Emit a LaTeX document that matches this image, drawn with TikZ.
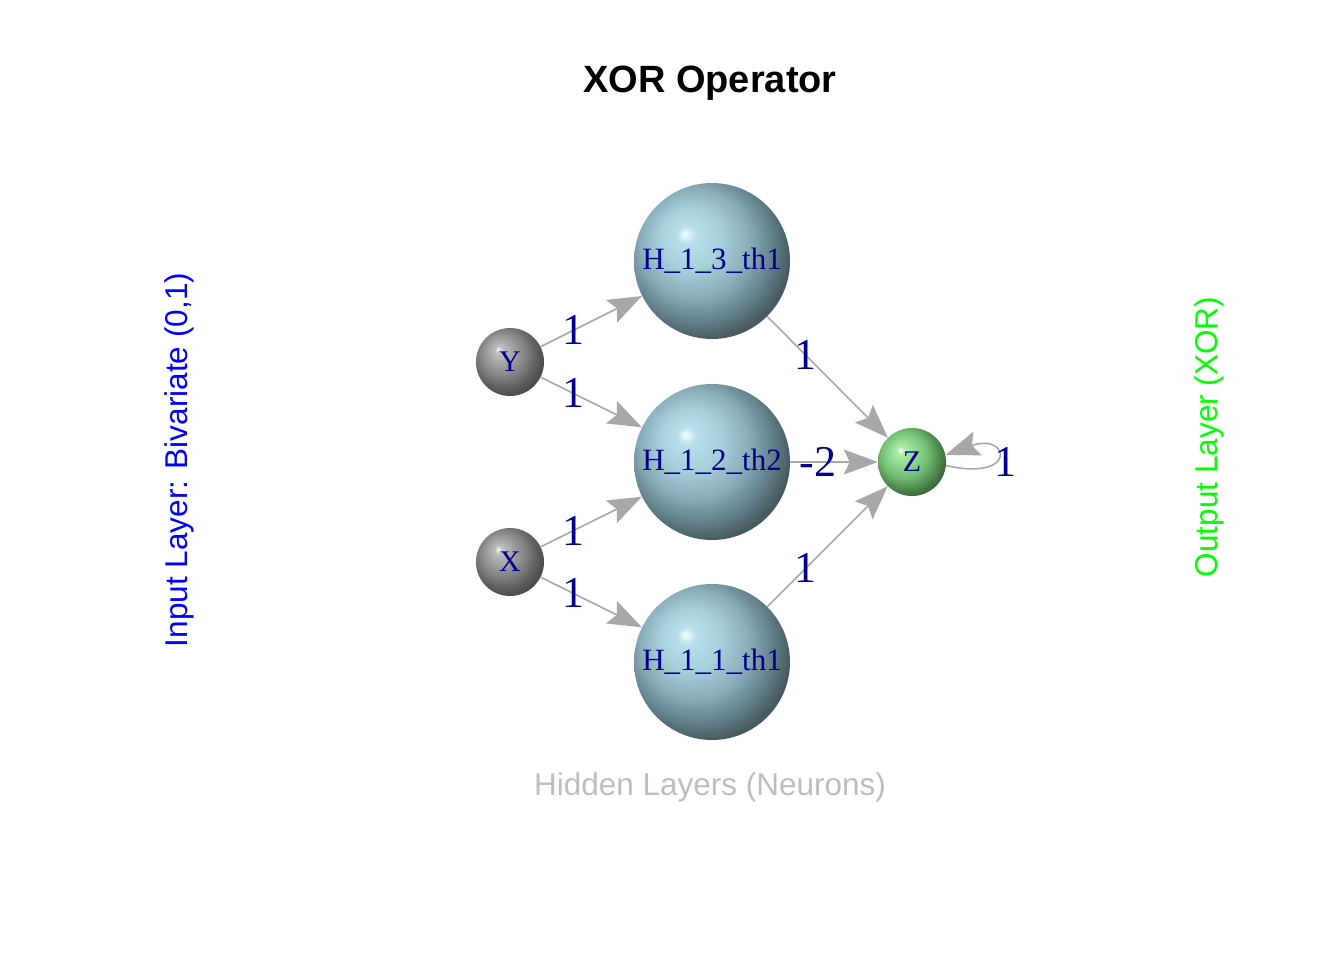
\documentclass[tikz,border=0pt]{standalone}
\usepackage{fontspec}
\setmainfont{Liberation Serif}
\newfontfamily\arialf{Liberation Sans}
\usetikzlibrary{arrows.meta,calc}
\definecolor{edgegray}{HTML}{A8A8A8}
\definecolor{lblblue}{HTML}{00008B}
\definecolor{hidgray}{HTML}{BEBEBE}
\pgfdeclareradialshading{hball}{\pgfpoint{-8.7bp}{8.9bp}}{%
 color(0bp)=(rgb,255:red,245;green,253;blue,255);
 color(1.2bp)=(rgb,255:red,216;green,241;blue,247);
 color(3bp)=(rgb,255:red,184;green,224;blue,236);
 color(10bp)=(rgb,255:red,166;green,206;blue,219);
 color(17bp)=(rgb,255:red,139;green,176;blue,188);
 color(24bp)=(rgb,255:red,98;green,128;blue,138);
 color(29bp)=(rgb,255:red,72;green,90;blue,96);
 color(50bp)=(rgb,255:red,72;green,90;blue,96)}
\pgfdeclareradialshading{gball}{\pgfpoint{-8.7bp}{9.5bp}}{%
 color(0bp)=(rgb,255:red,248;green,248;blue,248);
 color(1.2bp)=(rgb,255:red,222;green,222;blue,222);
 color(3bp)=(rgb,255:red,190;green,190;blue,190);
 color(10bp)=(rgb,255:red,160;green,160;blue,160);
 color(17bp)=(rgb,255:red,130;green,130;blue,130);
 color(24bp)=(rgb,255:red,95;green,95;blue,95);
 color(29bp)=(rgb,255:red,76;green,76;blue,76);
 color(50bp)=(rgb,255:red,76;green,76;blue,76)}
\pgfdeclareradialshading{zball}{\pgfpoint{-8.7bp}{8.9bp}}{%
 color(0bp)=(rgb,255:red,245;green,255;blue,245);
 color(1.2bp)=(rgb,255:red,212;green,248;blue,212);
 color(3bp)=(rgb,255:red,172;green,236;blue,172);
 color(10bp)=(rgb,255:red,140;green,216;blue,140);
 color(17bp)=(rgb,255:red,116;green,190;blue,116);
 color(24bp)=(rgb,255:red,79;green,140;blue,79);
 color(29bp)=(rgb,255:red,61;green,104;blue,61);
 color(50bp)=(rgb,255:red,61;green,104;blue,61)}
\tikzset{
 inball/.style={circle,minimum size=68pt,inner sep=0pt,shading=gball,text=lblblue,font=\fontsize{30}{30}\selectfont},
 hidball/.style={circle,minimum size=156pt,inner sep=0pt,shading=hball,text=lblblue,font=\fontsize{31}{31}\selectfont},
 outball/.style={circle,minimum size=68pt,inner sep=0pt,shading=zball,text=lblblue,font=\fontsize{30}{30}\selectfont},
 edge/.style={draw=edgegray,line width=1.6pt,-{Stealth[length=34pt,width=25pt,inset=6pt]}},
 wlabel/.style={text=lblblue,font=\fontsize{44}{44}\selectfont,inner sep=0pt},
 axlabel/.style={font=\arialf\fontsize{31.5}{36}\selectfont}
}
\begin{document}
\begin{tikzpicture}[x=1pt,y=-1pt]
\useasboundingbox (0,0) rectangle (1344,960);
\node[font=\arialf\bfseries\fontsize{38}{40}\selectfont] (title) at (710,83) {XOR Operator};
\node[axlabel,text=blue,rotate=90] (inlab) at (179,460) {Input Layer: Bivariate (0,1)};
\node[axlabel,text=green,rotate=90] (outlab) at (1209,437) {Output Layer (XOR)};
\node[axlabel,text=hidgray] (hidlab) at (710,787) {Hidden Layers (Neurons)};
\node[inball] (Y) at (510,362) {Y};
\node[inball] (X) at (510,562) {X};
\node[hidball] (H3) at (712,261) {H\_1\_3\_th1};
\node[hidball] (H2) at (712,462) {H\_1\_2\_th2};
\node[hidball] (H1) at (712,662) {H\_1\_1\_th1};
\node[outball] (Z) at (912,462) {Z};
\draw[edge] (Y) -- node[wlabel,pos=0.32] (lyh3) {1} (H3);
\draw[edge] (Y) -- node[wlabel,pos=0.32] (lyh2) {1} (H2);
\draw[edge] (X) -- node[wlabel,pos=0.32] (lxh2) {1} (H2);
\draw[edge] (X) -- node[wlabel,pos=0.32] (lxh1) {1} (H1);
\draw[edge] (H3) -- node[wlabel,pos=0.32] (lh3z) {1} (Z);
\draw[edge] (H2) -- node[wlabel,pos=0.32] (lh2z) {-2} (Z);
\draw[edge] (H1) -- node[wlabel,pos=0.32] (lh1z) {1} (Z);
\coordinate (zs) at (Z.-6);
\coordinate (ze) at (Z.12);
\draw[edge] (zs) .. controls (1018,482) and (1010,432) .. (ze);
\node[wlabel] (lzz) at (1005,462) {1};
\end{tikzpicture}
\end{document}
